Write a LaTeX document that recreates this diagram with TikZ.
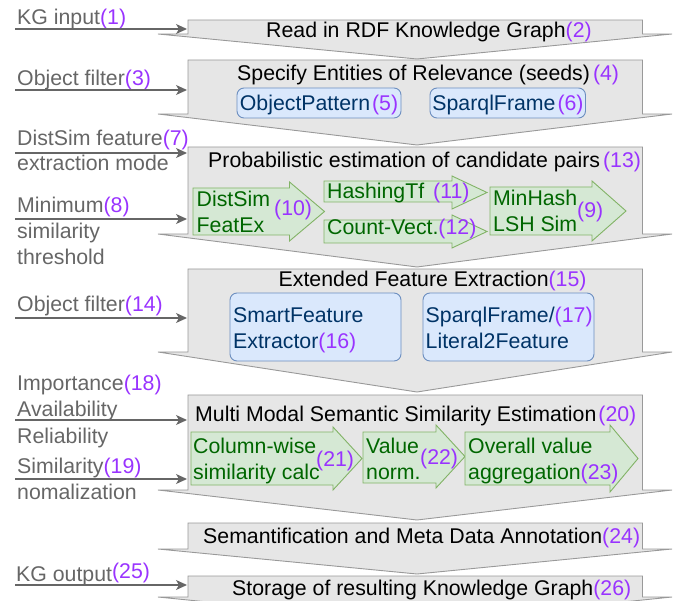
\documentclass[tikz,border=0pt]{standalone}
\usepackage{fontspec}
\setmainfont{Liberation Sans}
\usetikzlibrary{arrows.meta}

\definecolor{numc}{HTML}{9933FF}
\definecolor{lblc}{HTML}{666666}
\definecolor{stagefill}{HTML}{E6E6E6}
\definecolor{stageline}{HTML}{999999}
\definecolor{bluefill}{HTML}{DAE8FC}
\definecolor{blueline}{HTML}{6C8EBF}
\definecolor{bluetext}{HTML}{003366}
\definecolor{greenfill}{HTML}{D5E8D4}
\definecolor{greenline}{HTML}{82B366}
\definecolor{greentext}{HTML}{006600}

% purple step number
\newcommand{\nr}[1]{\textcolor{numc}{(#1)}}
% gray pipeline stage: rectangle with a chevron bottom (top, wing, tip)
\newcommand{\stageshape}[3]{%
  \filldraw[stage] (188,#1) -- (642.5,#1) -- (642.5,#2) -- (672,#2)
    -- (417,#3) -- (158,#2) -- (188,#2) -- cycle;}
% green block arrow: x0, body end, tip, body top, body bottom, head top, head bottom
\newcommand{\greenarrow}[7]{%
  \filldraw[garrow] (#1,#4) -- (#2,#4) -- (#2,#6) -- (#3,{(#6+#7)/2})
    -- (#2,#7) -- (#2,#5) -- (#1,#5) -- cycle;}

\tikzset{
  stage/.style={fill=stagefill, draw=stageline, line width=0.9pt, line join=miter},
  garrow/.style={fill=greenfill, draw=greenline, line width=0.9pt},
  bluebox/.style={fill=bluefill, draw=blueline, line width=0.9pt, rounded corners=7pt},
  txt/.style={anchor=base west, inner sep=0pt, font=\fontsize{21.3}{26}\selectfont},
  lbl/.style={txt, text=lblc},
  gtxt/.style={txt, text=greentext},
  btxt/.style={txt, text=bluetext},
  feed/.style={draw=lblc, line width=1.3pt, -{Stealth[length=11pt,width=10pt,inset=3pt]}},
}

\begin{document}
\begin{tikzpicture}[x=1pt, y=-1pt]
\useasboundingbox (0,0) rectangle (688,601);
\clip (0,0) rectangle (688,601);

% pipeline stages, top to bottom
\stageshape{20}{34}{59}
\stageshape{60}{114}{145}
\stageshape{147}{234}{267}
\stageshape{269}{352}{392}
\stageshape{395}{490}{520}
\stageshape{523}{549}{574}
\stageshape{576}{597}{623}

% stage titles
\node[txt] (t2) at (266,38) {Read in RDF Knowledge Graph\nr{2}};
\node[txt] (t4) at (237,81) {Specify Entities of Relevance (seeds)\hspace{3pt}\nr{4}};
\node[txt] (t13) at (208,168) {Probabilistic estimation of candidate pairs\hspace{3pt}\nr{13}};
\node[txt] (t15) at (278.5,287) {Extended Feature Extraction\nr{15}};
\node[txt] (t20) at (195,421) {Multi Modal Semantic Similarity Estimation\hspace{2pt}\nr{20}};
\node[txt] (t24) at (203,543) {Semantification and Meta Data Annotation\nr{24}};
\node[txt] (t26) at (232,595) {Storage of resulting Knowledge Graph\nr{26}};

% seed selection components
\draw[bluebox] (237,88) rectangle (401,118);
\node[btxt, anchor=base] (b5) at (319,111) {ObjectPattern\hspace{2pt}\nr{5}};
\draw[bluebox] (430,88) rectangle (585.5,118);
\node[btxt, anchor=base] (b6) at (508,111) {SparqlFrame\hspace{2pt}\nr{6}};

% candidate pair estimation
\greenarrow{193}{289.5}{324.5}{188}{235}{182}{241}
\node[gtxt] (g10a) at (196.5,207) {DistSim};
\node[gtxt] (g10b) at (196.5,233) {FeatEx};
\node[txt] (g10n) at (274,216) {\nr{10}};
\greenarrow{324}{452}{487}{181}{202}{176}{209}
\node[gtxt] (g11) at (327,199) {HashingTf};
\node[txt] (g11n) at (433,199) {\nr{11}};
\greenarrow{324}{452}{487}{220}{243}{215}{248}
\node[gtxt] (g12) at (327,235) {Count-Vect.\nr{12}};
\greenarrow{490}{592}{626}{187}{235}{181}{241}
\node[gtxt] (g9a) at (493,206) {MinHash};
\node[gtxt] (g9b) at (493,232) {LSH Sim};
\node[txt] (g9n) at (577,218) {\nr{9}};

% extended feature extraction components
\draw[bluebox] (230,293) rectangle (401,361);
\node[btxt] (b16a) at (233,323) {SmartFeature};
\node[btxt] (b16b) at (233,349) {Extractor\nr{16}};
\draw[bluebox] (423,293) rectangle (594,361);
\node[btxt] (b17a) at (425.5,323) {SparqlFrame/\nr{17}};
\node[btxt] (b17b) at (425.5,349) {Literal2Feature};

% similarity estimation
\greenarrow{191}{333}{362}{432}{485}{427}{490}
\node[gtxt] (g21a) at (193,453) {Column-wise};
\node[gtxt] (g21b) at (193,479) {similarity calc};
\node[txt] (g21n) at (316,466) {\nr{21}};
\greenarrow{363}{436}{465}{432}{483}{425}{488}
\node[gtxt] (g22a) at (366,453) {Value};
\node[gtxt] (g22b) at (366,479) {norm.};
\node[txt] (g22n) at (420,464) {\nr{22}};
\greenarrow{465}{610}{638}{432}{485}{425}{492}
\node[gtxt] (g23a) at (468,453) {Overall value};
\node[gtxt] (g23b) at (468,479) {aggregation\nr{23}};

% parameter labels
\node[lbl] (l1) at (17,25) {KG input\nr{1}};
\node[lbl] (l3) at (17,86) {Object filter\nr{3}};
\node[lbl] (l7a) at (17,146) {DistSim feature\nr{7}};
\node[lbl] (l7b) at (17,171) {extraction mode};
\node[lbl] (l8a) at (17,213) {Minimum\nr{8}};
\node[lbl] (l8b) at (17,239) {similarity};
\node[lbl] (l8c) at (17,265) {threshold};
\node[lbl] (l14) at (17,312) {Object filter\nr{14}};
\node[lbl] (l18a) at (17,391) {Importance\nr{18}};
\node[lbl] (l18b) at (17,417) {Availability};
\node[lbl] (l18c) at (17,443) {Reliability};
\node[lbl] (l19a) at (17,473) {Similarity\nr{19}};
\node[lbl] (l19b) at (17,499) {nomalization};
\node[lbl] (l25) at (16,581) {KG output\raisebox{3pt}{\nr{25}}};

% parameter feeds into the stages
\foreach \n/\y in {1/29, 3/90, 7/153, 8/219, 14/318, 18/420, 19/479, 25/585} {
  \coordinate (src\n) at (15,\y);
  \coordinate (dst\n) at (187,\y);
  \draw[feed] (src\n) -- (dst\n);
}
\end{tikzpicture}
\end{document}
